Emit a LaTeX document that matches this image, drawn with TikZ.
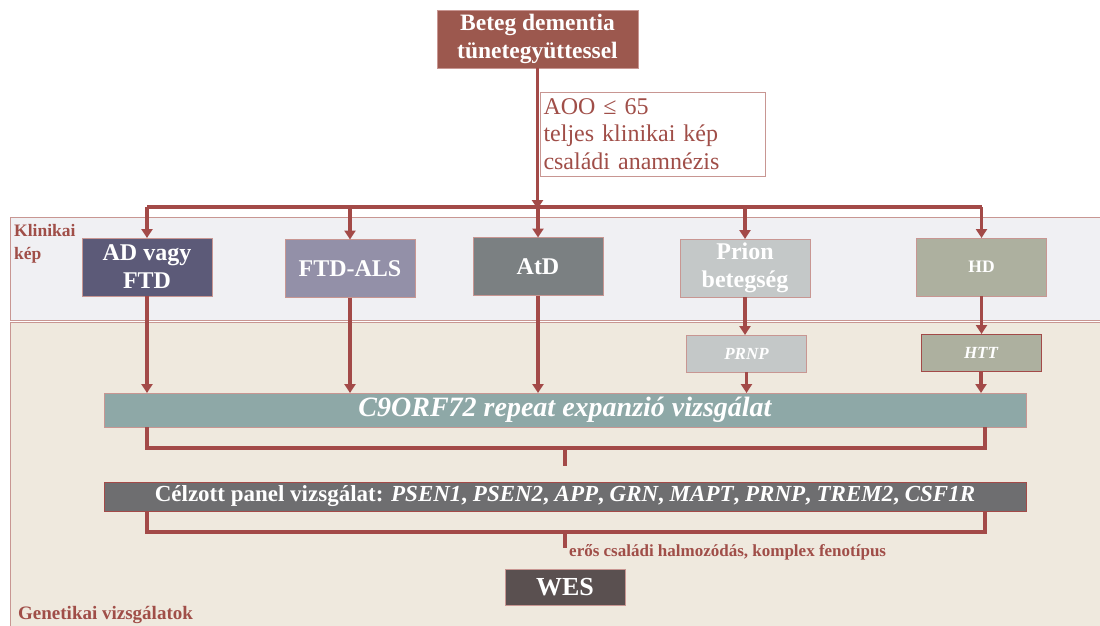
\documentclass[tikz,border=0pt]{standalone}
\usepackage{fontspec}
\setmainfont{Liberation Serif}
\usetikzlibrary{arrows.meta}

\definecolor{linered}{RGB}{163,74,72}
\definecolor{labelred}{RGB}{160,78,72}
\definecolor{topbrown}{RGB}{156,88,78}
\definecolor{klinfill}{RGB}{240,240,243}
\definecolor{genfill}{RGB}{239,233,222}
\definecolor{bandline}{RGB}{200,150,146}
\definecolor{adcol}{RGB}{92,90,120}
\definecolor{alscol}{RGB}{147,144,168}
\definecolor{atdcol}{RGB}{123,128,130}
\definecolor{prioncol}{RGB}{196,200,200}
\definecolor{hdcol}{RGB}{173,176,159}
\definecolor{c9col}{RGB}{142,168,167}
\definecolor{panelcol}{RGB}{110,110,112}
\definecolor{wescol}{RGB}{90,80,80}

\begin{document}
\begin{tikzpicture}[
                   x = 1pt, y = -1pt,
                   > = {Triangle[width=11pt,length=9pt]},
           conn/.style = {draw=linered, line width=3.5pt},
          arrow/.style = {conn, ->},
        diagbox/.style = {rectangle,
                          draw=bandline,
                          thin,
                          text=white,
                          align=center,
                          inner sep=0pt,
                          outer sep=0pt,
                          font=\bfseries\fontsize{24}{28}\selectfont},
          clinic/.style = {diagbox, minimum width=130pt, minimum height=58pt},
            gene/.style = {diagbox, minimum width=120pt, minimum height=37pt,
                          font=\bfseries\itshape\fontsize{17}{19}\selectfont},
             bar/.style = {diagbox, minimum width=922pt},
       bandlabel/.style = {text=labelred, inner sep=0pt, align=left},
            ]

            \useasboundingbox (0,0) rectangle (1100,625);

            % bands
            \filldraw[fill=klinfill, draw=bandline] (10,217) rectangle (1104,320);
            \filldraw[fill=genfill, draw=bandline] (10,322) rectangle (1104,629);
            \node[bandlabel, anchor=north west,
                  font=\bfseries\fontsize{17.5}{23}\selectfont] (kliniklabel) at (14,224) {Klinikai\\kép};
            \node[bandlabel, anchor=base west,
                  font=\bfseries\fontsize{19}{21}\selectfont] (genlabel) at (18,619) {Genetikai vizsgálatok};

            % start
            \node[diagbox, fill=topbrown, minimum width=201pt, minimum height=58pt,
                  font=\bfseries\fontsize{23.5}{28}\selectfont] (patient) at (537.5,39)
                  {Beteg dementia\\tünetegyüttessel};
            \node[rectangle, draw=bandline, fill=white, thin, minimum width=225pt, minimum height=84pt,
                  text width=218pt, align=left, text=labelred, inner sep=0pt,
                  font=\fontsize{24}{27.5}\selectfont] (criteria) at (652.5,134)
                  {AOO ≤ 65\\teljes klinikai kép\\családi anamnézis};

            % clinical picture
            \node[clinic, fill=adcol]    (ad)    at (147,267)   {AD vagy\\FTD};
            \node[clinic, fill=alscol]   (ftdals) at (350,268.5) {FTD-ALS};
            \node[clinic, fill=atdcol]   (atd)   at (538,266.5) {AtD};
            \node[clinic, fill=prioncol] (prion) at (745,268)   {Prion\\betegség};
            \node[clinic, fill=hdcol, font=\bfseries\fontsize{17.5}{19}\selectfont] (hd) at (981.5,267) {HD};

            % genetic tests
            \node[gene, fill=prioncol] (prnp) at (746.5,353.5) {PRNP};
            \node[gene, fill=hdcol, draw=linered] (htt) at (981,352.5) {HTT};
            \node[bar, fill=c9col, minimum height=34pt,
                  font=\bfseries\itshape\fontsize{28}{30}\selectfont] (c9) at (565,410)
                  {C9ORF72 repeat expanzió vizsgálat};
            \node[bar, fill=panelcol, draw=linered, minimum height=29pt,
                  font=\bfseries\fontsize{23}{25}\selectfont] (panel) at (565,496.5)
                  {Célzott panel vizsgálat: \textit{PSEN1}, \textit{PSEN2}, \textit{APP}, \textit{GRN},
                   \textit{MAPT}, \textit{PRNP}, \textit{TREM2}, \textit{CSF1R}};
            \node[diagbox, fill=wescol, minimum width=120pt, minimum height=36pt,
                  font=\bfseries\fontsize{26}{28}\selectfont] (wes) at (565,587) {WES};
            \node[bandlabel, anchor=base west,
                  font=\bfseries\fontsize{17}{19}\selectfont] (wesnote) at (569,556)
                  {erős családi halmozódás, komplex fenotípus};

            % connectors
            \coordinate (split) at (537.5,207);
            \draw[arrow] (patient.south) -- ([yshift=-2pt]split);
            \draw[conn] (split -| ad) -- (split -| hd);
            \foreach \n in {ad,ftdals,atd,prion,hd}{%
                \draw[arrow] (split -| \n) -- (\n.north);
            }
            \foreach \n in {ad,ftdals,atd}{%
                \draw[arrow] (\n.south) -- (\n.south |- c9.north);
            }
            \draw[arrow] (prion.south) -- (prion.south |- prnp.north);
            \draw[arrow] (hd.south) -- (hd.south |- htt.north);
            \draw[arrow] (prnp.south) -- (prnp.south |- c9.north);
            \draw[arrow] (htt.south) -- (htt.south |- c9.north);

            \coordinate (c9join) at (565,448);
            \draw[conn] (ad |- c9.south) -- (ad |- c9join) -- ([xshift=4pt]htt |- c9join) -- ([xshift=4pt]htt |- c9.south);
            \draw[conn] (c9join) -- ++(0,18);

            \coordinate (paneljoin) at (565,532);
            \draw[conn] (ad |- panel.south) -- (ad |- paneljoin) -- ([xshift=4pt]htt |- paneljoin) -- ([xshift=4pt]htt |- panel.south);
            \draw[conn] (paneljoin) -- ++(0,16);
        \end{tikzpicture}
\end{document}
